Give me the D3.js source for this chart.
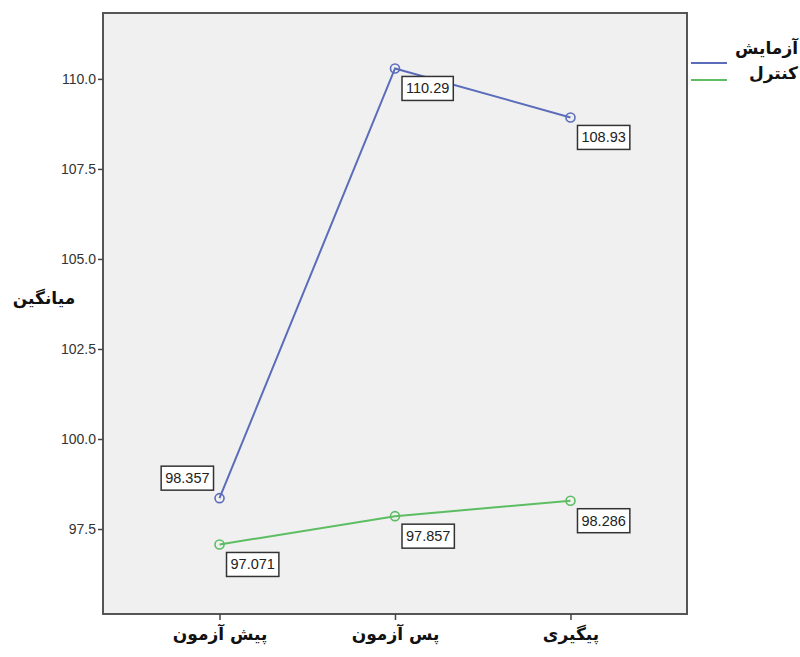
<!DOCTYPE html>
<html><head><meta charset="utf-8">
<script src="https://cdn.jsdelivr.net/npm/d3@7"></script>
<style>body{margin:0;background:#fff}svg{display:block}</style>
</head><body>
<svg id="c" width="800" height="657"></svg>
<script>
const categories = ["پیش آزمون", "پس آزمون", "پیگیری"];
const seriesNames = ["آزمایش", "کنترل"];
const experimentValues = [98.357, 110.29, 108.93];
const controlValues = [97.071, 97.857, 98.286];
const yTicks = [97.5, 100.0, 102.5, 105.0, 107.5, 110.0];
const yTitle = "میانگین";
const colors = ["#5b6dba", "#5dbd62"];

const series = [
  {name: seriesNames[0], values: experimentValues, color: colors[0]},
  {name: seriesNames[1], values: controlValues, color: colors[1]}
];

const svg = d3.select("#c");
const L = 103, R = 687, T = 13, B = 614;
const x = d3.scalePoint().domain(categories).range([L, R]).padding(0.664);
const y = d3.scaleLinear().domain([95.14, 111.83]).range([B, T]);

svg.append("rect").attr("x", L).attr("y", T).attr("width", R - L).attr("height", B - T)
  .attr("fill", "#f0f0f0").attr("stroke", "#555").attr("stroke-width", 2);

const yAxis = svg.append("g").attr("transform", `translate(${L},0)`)
  .call(d3.axisLeft(y).tickValues(yTicks).tickFormat(d3.format(".1f")).tickSize(5).tickPadding(2));
yAxis.select(".domain").remove();
yAxis.selectAll("line").attr("stroke", "#444").attr("stroke-width", 1.5);
yAxis.selectAll("text").attr("font-family", "Arial, 'Liberation Sans', sans-serif")
  .attr("font-size", 14).attr("fill", "#333");

const xAxis = svg.append("g").attr("transform", `translate(0,${B})`)
  .call(d3.axisBottom(x).tickSize(6).tickPadding(6));
xAxis.select(".domain").remove();
xAxis.selectAll("line").attr("stroke", "#444").attr("stroke-width", 1.5);
xAxis.selectAll("text").attr("font-family", "'DejaVu Sans', sans-serif").attr("font-weight", "bold")
  .attr("font-size", 17).attr("fill", "#111").attr("dy", "0.85em");

svg.append("text").attr("x", 44).attr("y", 304).attr("text-anchor", "middle")
  .attr("font-family", "'DejaVu Sans', sans-serif").attr("font-weight", "bold")
  .attr("font-size", 17).attr("fill", "#111").text(yTitle);

const line = d3.line().x((d, i) => x(categories[i])).y(d => y(d));
series.forEach((s, si) => {
  svg.append("path").datum(s.values).attr("d", line).attr("fill", "none")
    .attr("stroke", s.color).attr("stroke-width", 2);
  svg.selectAll(null).data(s.values).enter().append("circle")
    .attr("cx", (d, i) => x(categories[i])).attr("cy", d => y(d)).attr("r", 4.5)
    .attr("fill", "none").attr("stroke", s.color).attr("stroke-width", 1.6);
});

// value labels
series.forEach((s, si) => {
  s.values.forEach((v, i) => {
    const px = x(categories[i]), py = y(v);
    const upperLeft = (si === 0 && i === 0);
    const g = svg.append("g");
    const t = g.append("text").attr("font-family", "Arial, 'Liberation Sans', sans-serif")
      .attr("font-size", 14.5).attr("fill", "#222").text(String(v));
    const w = t.node().getComputedTextLength() + 8, h = 24;
    let bx, by;
    if (upperLeft) { bx = px - 6 - w; by = py - 8 - h; }
    else { bx = px + 7; by = py + 8; }
    g.insert("rect", "text").attr("x", bx).attr("y", by).attr("width", w).attr("height", h)
      .attr("fill", "#fff").attr("stroke", "#333").attr("stroke-width", 1.5);
    t.attr("x", bx + 4).attr("y", by + h / 2 + 5);
  });
});

// legend
series.forEach((s, si) => {
  const ly = 63 + si * 17;
  svg.append("line").attr("x1", 691).attr("x2", 727).attr("y1", ly).attr("y2", ly)
    .attr("stroke", s.color).attr("stroke-width", 1.8);
  svg.append("text").attr("x", 798).attr("y", 54 + si * 25).attr("text-anchor", "end")
    .attr("font-family", "'DejaVu Sans', sans-serif").attr("font-weight", "bold")
    .attr("font-size", 17).attr("fill", "#111").text(s.name);
});
</script>
</body></html>
